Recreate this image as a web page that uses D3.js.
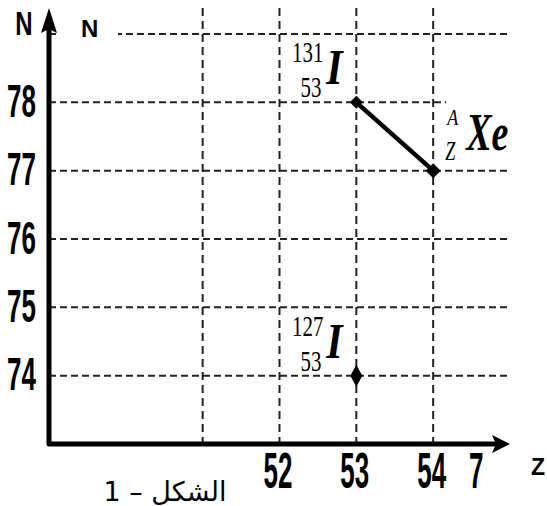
<!DOCTYPE html>
<html>
<head>
<meta charset="utf-8">
<script src="https://cdn.jsdelivr.net/npm/d3@7"></script>
<style>
  body { margin: 0; background: #fff; }
  svg { display: block; }
</style>
</head>
<body>
<div id="chart"></div>
<script>
// data
const gridZ = [51, 52, 53, 54]
const gridN = [74, 75, 76, 77, 78, 79]
const zTickValues = [52, 53, 54, 54.58]
const zTickLabels = ["52", "53", "54", "7"]
const nTickValues = [74, 75, 76, 77, 78]
const nTickLabels = ["74", "75", "76", "77", "78"]
const decayPath = [{ z: 53, n: 78 }, { z: 54, n: 77 }]
const iodine127 = [{ z: 53, n: 74 }]
const nuclides = [
  { mass: "131", charge: "53", symbol: "I", z: 53, n: 78 },
  { mass: "A", charge: "Z", symbol: "Xe", z: 54, n: 77 },
  { mass: "127", charge: "53", symbol: "I", z: 53, n: 74 }
]
const caption = "الشكل – 1"

// size
const width = 547
const height = 506

const svg = d3.select("#chart").append("svg").attr("width", width).attr("height", height)

// scales
const x = d3.scaleLinear().domain([49, 55]).range([49, 510])
const y = d3.scaleLinear().domain([73, 79]).range([444, 34])

// grid
const gridGroup = svg.append("g").attr("id", "grid")
gridGroup.selectAll("line.h").data(gridN).enter().append("line")
  .attr("class", "h")
  .attr("x1", x(49)).attr("x2", x(55))
  .attr("y1", d => y(d)).attr("y2", d => y(d))
  .attr("stroke", "#222").attr("stroke-width", 2).attr("stroke-dasharray", "7,4")
gridGroup.selectAll("line.v").data(gridZ).enter().append("line")
  .attr("class", "v")
  .attr("x1", d => x(d)).attr("x2", d => x(d))
  .attr("y1", 8).attr("y2", y(73))
  .attr("stroke", "#222").attr("stroke-width", 2).attr("stroke-dasharray", "8,5")

// white patches behind labels
svg.append("rect").attr("x", 58).attr("y", 14).attr("width", 60).attr("height", 30).attr("fill", "#fff")
svg.append("rect").attr("x", x(54) + 13).attr("y", y(78) - 10).attr("width", 62).attr("height", 60).attr("fill", "#fff")

// axes (thick arrows)
svg.append("path")
  .attr("d", `M${x(49)},28 L${x(49)},${y(73)} L${x(55) - 14},${y(73)}`)
  .attr("fill", "none").attr("stroke", "#000").attr("stroke-width", 5)
  .attr("stroke-linejoin", "round")
svg.append("path")
  .attr("d", `M${x(49)},8 L${x(49) + 8},33 L${x(49)},29 L${x(49) - 8},33 Z`)
  .attr("fill", "#000")
svg.append("path")
  .attr("d", `M${x(55)},${y(73)} L${x(55) - 18},${y(73) - 9} L${x(55) - 14},${y(73)} L${x(55) - 18},${y(73) + 9} Z`)
  .attr("fill", "#000")

// tick labels
const tickFont = "'Liberation Sans', Arial, sans-serif"
const xAxis = d3.axisBottom(x).tickValues(zTickValues).tickFormat((d, i) => zTickLabels[i]).tickSize(0)
const xAxisGroup = svg.append("g").attr("id", "xAxisGroup").call(xAxis)
xAxisGroup.select(".domain").remove()
xAxisGroup.selectAll("text")
  .attr("y", 0).attr("dy", 0)
  .attr("transform", "translate(-2, 488) scale(1, 1.9)")
  .attr("font-family", tickFont).attr("font-weight", "bold").attr("font-size", 26).attr("fill", "#000")

const yAxis = d3.axisLeft(y).tickValues(nTickValues).tickFormat((d, i) => nTickLabels[i]).tickSize(0)
const yAxisGroup = svg.append("g").attr("id", "yAxisGroup").attr("transform", "translate(36, 0)").call(yAxis)
yAxisGroup.select(".domain").remove()
yAxisGroup.selectAll("text")
  .attr("x", 0).attr("dy", 0)
  .attr("transform", "translate(0, 14) scale(1, 1.75)")
  .attr("font-family", tickFont).attr("font-weight", "bold").attr("font-size", 26).attr("fill", "#000")

// axis titles
svg.append("text").text("N").attr("text-anchor", "middle")
  .attr("transform", "translate(24, 35) scale(1.2, 1.7)")
  .attr("font-family", tickFont).attr("font-weight", "bold").attr("font-size", 20)
svg.append("text").text("N").attr("x", 81).attr("y", 37)
  .attr("font-family", tickFont).attr("font-weight", "bold").attr("font-size", 24)
svg.append("text").text("Z").attr("x", 531).attr("y", 475)
  .attr("font-family", tickFont).attr("font-weight", "bold").attr("font-size", 23)

// decay line
const line = d3.line().x(d => x(d.z)).y(d => y(d.n))
svg.append("path").datum(decayPath).attr("d", line)
  .attr("fill", "none").attr("stroke", "#000").attr("stroke-width", 4.5)

const diamond = (w, h) => `M0,${-h / 2} L${w / 2},0 L0,${h / 2} L${-w / 2},0 Z`
svg.selectAll("path.mark").data(decayPath).enter().append("path")
  .attr("class", "mark")
  .attr("transform", d => `translate(${x(d.z)}, ${y(d.n)})`)
  .attr("d", (d, i) => i === 0 ? diamond(13, 13) : diamond(15, 15))
  .attr("fill", "#000")
svg.selectAll("path.single").data(iodine127).enter().append("path")
  .attr("class", "single")
  .attr("transform", d => `translate(${x(d.z)}, ${y(d.n)})`)
  .attr("d", diamond(12, 22))
  .attr("fill", "#000")

// nuclide labels
const serif = "'Liberation Serif', 'Times New Roman', serif"
nuclides.forEach(d => {
  const px = x(d.z), py = y(d.n)
  const g = svg.append("g")
  if (d.symbol === "I") {
    g.append("text").text(d.mass).attr("text-anchor", "end")
      .attr("transform", `translate(${px - 33}, ${py - 40}) scale(0.95, 1.35)`)
      .attr("font-family", serif).attr("font-size", 22)
    g.append("text").text(d.charge).attr("text-anchor", "end")
      .attr("transform", `translate(${px - 35}, ${py - 5}) scale(0.95, 1.35)`)
      .attr("font-family", serif).attr("font-size", 22)
    g.append("text").text(d.symbol)
      .attr("transform", `translate(${px - 30}, ${py - 18}) scale(1.05, 1.25)`)
      .attr("font-family", serif).attr("font-weight", "bold").attr("font-style", "italic").attr("font-size", 40)
  } else {
    g.append("text").text(d.mass)
      .attr("transform", `translate(${px + 14}, ${py - 46}) scale(1, 1.3)`)
      .attr("font-family", serif).attr("font-style", "italic").attr("font-size", 18)
    g.append("text").text(d.charge)
      .attr("transform", `translate(${px + 12}, ${py - 11}) scale(1, 1.55)`)
      .attr("font-family", serif).attr("font-style", "italic").attr("font-size", 18)
    g.append("text").text(d.symbol)
      .attr("transform", `translate(${px + 33}, ${py - 21}) scale(1, 1.4)`)
      .attr("font-family", serif).attr("font-weight", "bold").attr("font-style", "italic").attr("font-size", 38)
  }
})

// caption
svg.append("text").text(caption).attr("x", 165).attr("y", 501).attr("text-anchor", "middle")
  .attr("font-family", "'DejaVu Sans', Arial, sans-serif").attr("font-size", 27)
</script>
</body>
</html>
